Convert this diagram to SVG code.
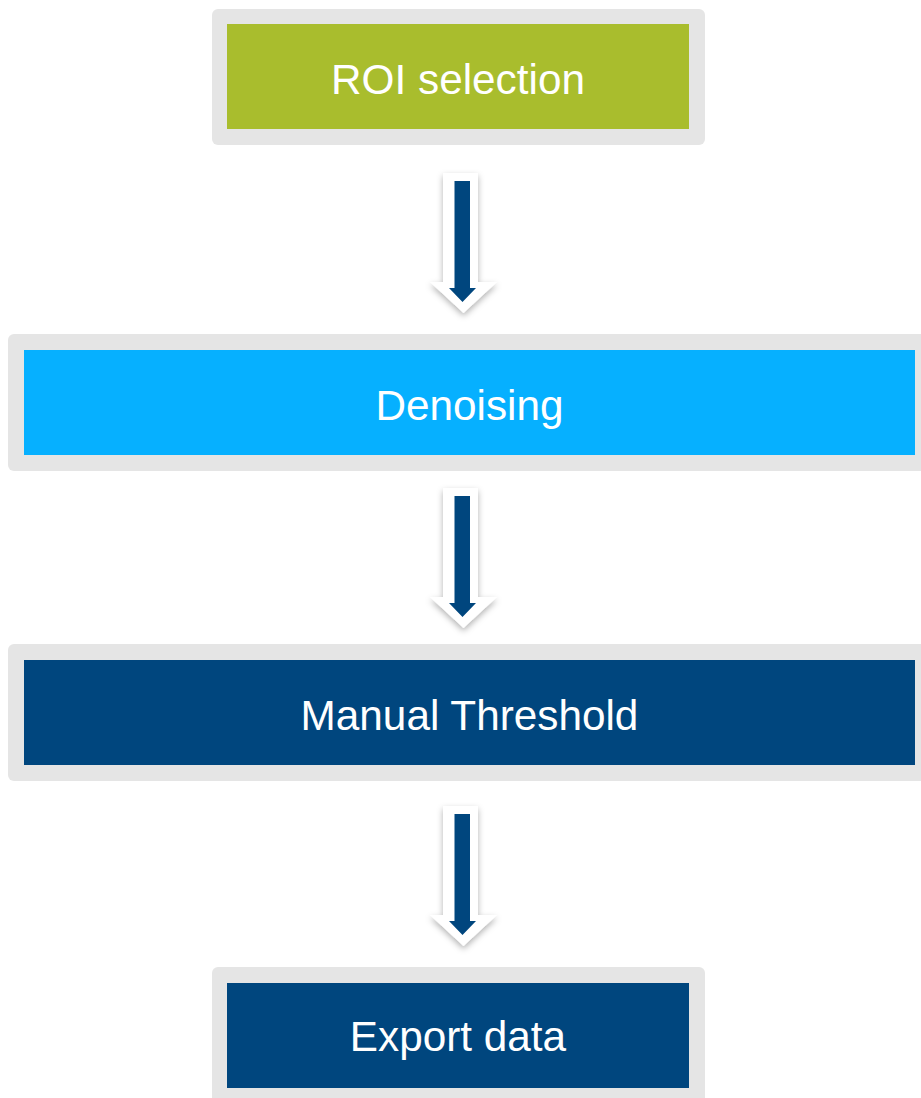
<svg xmlns="http://www.w3.org/2000/svg" width="921" height="1098" viewBox="0 0 921 1098">
<style>
.frame{fill:#E5E5E5}
.lbl{font-family:"Liberation Sans",Arial,sans-serif;font-size:42.3px;fill:#FFFFFF;text-anchor:middle}
.green{fill:#A9BD2D}
.cyan{fill:#06B0FF}
.navy{fill:#00467E}
.aw{fill:#FFFFFF}
.ab{fill:#00467E}
</style>
<defs>
<filter id="sh" x="-50%" y="-20%" width="200%" height="150%">
<feDropShadow dx="0" dy="3" stdDeviation="3" flood-color="#000000" flood-opacity="0.3"/>
</filter>
<g id="arrowShape">
<path class="aw" filter="url(#sh)" d="M443,-8 H478 V101 H497 L463.5,132 L430,101 H443 Z"/>
<path class="ab" d="M454.5,0 H470 V107 H476 L462.5,121 L449,107 H454.5 Z"/>
</g>
</defs>
<rect width="921" height="1098" fill="#FFFFFF"/>
<g id="connectors">
<use href="#arrowShape" transform="translate(0,181)"/>
<use href="#arrowShape" transform="translate(0,496)"/>
<use href="#arrowShape" transform="translate(0,814)"/>
</g>
<g id="node-roi">
<rect class="frame" x="212" y="9" width="493" height="136" rx="6"/>
<rect class="green" x="227" y="24" width="462" height="105"/>
<text class="lbl" x="458" y="93.5">ROI selection</text>
</g>
<g id="node-denoising">
<rect class="frame" x="8" y="334" width="923" height="137" rx="6"/>
<rect class="cyan" x="24" y="350" width="891" height="105"/>
<text class="lbl" x="469.5" y="419.5">Denoising</text>
</g>
<g id="node-threshold">
<rect class="frame" x="8" y="644" width="923" height="137" rx="6"/>
<rect class="navy" x="24" y="660" width="891" height="105"/>
<text class="lbl" x="469.5" y="729.5">Manual Threshold</text>
</g>
<g id="node-export">
<rect class="frame" x="212" y="967" width="493" height="140" rx="6"/>
<rect class="navy" x="227" y="983" width="462" height="105"/>
<text class="lbl" x="458" y="1051">Export data</text>
</g>
</svg>
